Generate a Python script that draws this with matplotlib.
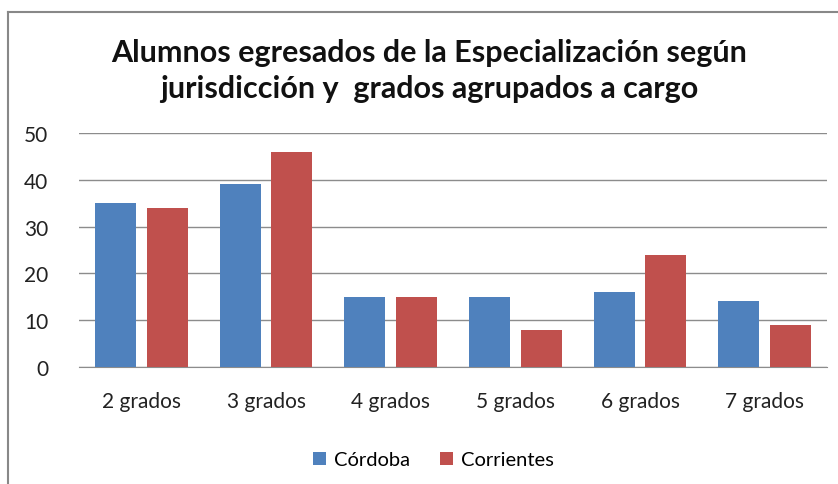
import numpy as np
import matplotlib.pyplot as plt

categorias = ['2 grados', '3 grados', '4 grados', '5 grados', '6 grados', '7 grados']
cordoba = [35, 39, 15, 15, 16, 14]
corrientes = [34, 46, 15, 8, 24, 9]
series = ['Córdoba', 'Corrientes']
titulo = 'Alumnos egresados de la Especialización según\njurisdicción y  grados agrupados a cargo'

plt.rcParams['font.family'] = ['Lato', 'DejaVu Sans']

fig = plt.figure(figsize=(8.38, 4.85), dpi=100)
ax = fig.add_axes([79 / 838, 1 - 368 / 485, (827 - 79) / 838, (368 - 134) / 485])

x = np.arange(len(categorias))
w = 0.33
ax.bar(x - 0.207, cordoba, w, color='#4F81BD', label=series[0], zorder=3)
ax.bar(x + 0.207, corrientes, w, color='#C0504D', label=series[1], zorder=3)

ax.set_xlim(-0.5, len(categorias) - 0.5)
ax.set_ylim(0, 50)
ax.set_yticks(range(0, 51, 10))
ax.set_xticks(x)
ax.set_xticklabels(categorias)
ax.yaxis.grid(True, color='#8c8c8c', linewidth=1)
ax.set_axisbelow(True)
for s in ['top', 'right', 'left']:
    ax.spines[s].set_visible(False)
ax.spines['bottom'].set_color('#8c8c8c')
ax.tick_params(axis='both', length=0, labelsize=15, colors='#222222')
ax.tick_params(axis='y', pad=22)
ax.tick_params(axis='x', pad=17)

fig.text(0.512, 1 - 71 / 485, titulo, ha='center', va='center', fontsize=22,
         fontweight='bold', linespacing=1.38, color='#111111')

fig.legend(loc='center', bbox_to_anchor=(0.517, 1 - 461 / 485), ncol=2, frameon=False,
           fontsize=14.5, handlelength=0.65, handleheight=0.65, columnspacing=1.5,
           handletextpad=0.4)

# marco del grafico
fig.add_artist(plt.Line2D([8 / 838, 1], [1 - 13 / 485, 1 - 13 / 485], color='#888888', lw=1.5))
fig.add_artist(plt.Line2D([8 / 838, 8 / 838], [0, 1 - 13 / 485], color='#888888', lw=1.5))

fig.savefig('out.png', dpi=100)
